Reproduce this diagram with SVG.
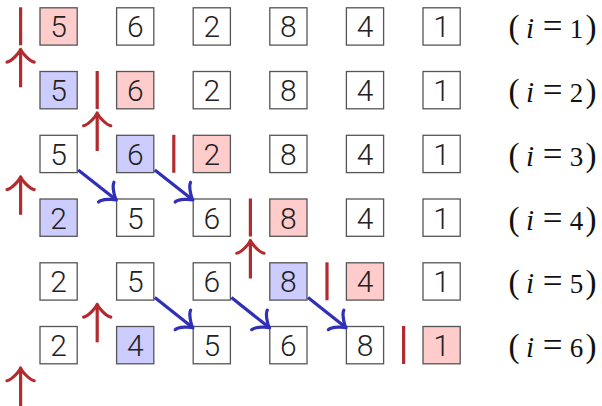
<svg xmlns="http://www.w3.org/2000/svg" width="602" height="406" viewBox="0 0 602 406">
<style>
.bx{fill:#ffffff;stroke:#555555;stroke-width:1.3}
.p{fill:#ffcccc}
.b{fill:#ccccff}
.d{font-family:Roboto,"DejaVu Sans",sans-serif;font-weight:300;font-size:30px;fill:#222222;text-anchor:middle}
.bar{stroke:#b22b2e;stroke-width:3.2;fill:none}
.ra{stroke:#b22b2e;stroke-width:3.2;fill:none;marker-end:url(#mr)}
.ba{stroke:#2f2fb8;stroke-width:3.2;fill:none;marker-end:url(#mb)}
.lb{font-family:"Liberation Serif",serif;font-size:27px;fill:#111111;text-anchor:middle}
.pa{font-size:33px}
.it{font-style:italic;font-size:29px}
.eq{font-size:35px}
</style>
<defs>
<marker id="mr" markerUnits="userSpaceOnUse" markerWidth="40" markerHeight="40" viewBox="-20 -20 40 40" refX="0" refY="0" orient="auto" overflow="visible">
<path d="M -12.75 -13.6 C -11.9 -8.5 -2.55 -0.85 0 0 C -2.55 0.85 -11.9 8.5 -12.75 13.6" fill="none" stroke="#b22b2e" stroke-width="3.2" stroke-linecap="round" stroke-linejoin="round"/>
</marker>
<marker id="mb" markerUnits="userSpaceOnUse" markerWidth="40" markerHeight="40" viewBox="-20 -20 40 40" refX="0" refY="0" orient="auto" overflow="visible">
<path d="M -12.75 -12.5 C -11.9 -7.8 -2.55 -0.8 0 0 C -2.55 0.8 -11.9 7.8 -12.75 12.5" fill="none" stroke="#2f2fb8" stroke-width="3.2" stroke-linecap="round" stroke-linejoin="round"/>
</marker>
</defs>

<g id="row1">
<g id="n1-1"><rect class="bx p" x="40" y="7.8" width="37.2" height="37.3"/><text class="d" x="58.6" y="37.2">5</text></g>
<g id="n1-2"><rect class="bx" x="116.6" y="7.8" width="37.2" height="37.3"/><text class="d" x="135.2" y="37.2">6</text></g>
<g id="n1-3"><rect class="bx" x="193.2" y="7.8" width="37.2" height="37.3"/><text class="d" x="211.8" y="37.2">2</text></g>
<g id="n1-4"><rect class="bx" x="269.8" y="7.8" width="37.2" height="37.3"/><text class="d" x="288.4" y="37.2">8</text></g>
<g id="n1-5"><rect class="bx" x="346.4" y="7.8" width="37.2" height="37.3"/><text class="d" x="365" y="37.2">4</text></g>
<g id="n1-6"><rect class="bx" x="423" y="7.8" width="37.2" height="37.3"/><text class="d" x="441.6" y="37.2">1</text></g>
<text id="lab1" class="lb" y="38.4"><tspan x="514" class="pa">(</tspan><tspan x="530" class="it">i</tspan><tspan x="552.5" class="eq">=</tspan><tspan x="576.5">1</tspan><tspan x="591" class="pa">)</tspan></text>
</g>

<g id="row2">
<g id="n2-1"><rect class="bx b" x="40" y="71.5" width="37.2" height="37.3"/><text class="d" x="58.6" y="101">5</text></g>
<g id="n2-2"><rect class="bx p" x="116.6" y="71.5" width="37.2" height="37.3"/><text class="d" x="135.2" y="101">6</text></g>
<g id="n2-3"><rect class="bx" x="193.2" y="71.5" width="37.2" height="37.3"/><text class="d" x="211.8" y="101">2</text></g>
<g id="n2-4"><rect class="bx" x="269.8" y="71.5" width="37.2" height="37.3"/><text class="d" x="288.4" y="101">8</text></g>
<g id="n2-5"><rect class="bx" x="346.4" y="71.5" width="37.2" height="37.3"/><text class="d" x="365" y="101">4</text></g>
<g id="n2-6"><rect class="bx" x="423" y="71.5" width="37.2" height="37.3"/><text class="d" x="441.6" y="101">1</text></g>
<text id="lab2" class="lb" y="102.1"><tspan x="514" class="pa">(</tspan><tspan x="530" class="it">i</tspan><tspan x="552.5" class="eq">=</tspan><tspan x="576.5">2</tspan><tspan x="591" class="pa">)</tspan></text>
</g>

<g id="row3">
<g id="n3-1"><rect class="bx" x="40" y="135.3" width="37.2" height="37.3"/><text class="d" x="58.6" y="164.8">5</text></g>
<g id="n3-2"><rect class="bx b" x="116.6" y="135.3" width="37.2" height="37.3"/><text class="d" x="135.2" y="164.8">6</text></g>
<g id="n3-3"><rect class="bx p" x="193.2" y="135.3" width="37.2" height="37.3"/><text class="d" x="211.8" y="164.8">2</text></g>
<g id="n3-4"><rect class="bx" x="269.8" y="135.3" width="37.2" height="37.3"/><text class="d" x="288.4" y="164.8">8</text></g>
<g id="n3-5"><rect class="bx" x="346.4" y="135.3" width="37.2" height="37.3"/><text class="d" x="365" y="164.8">4</text></g>
<g id="n3-6"><rect class="bx" x="423" y="135.3" width="37.2" height="37.3"/><text class="d" x="441.6" y="164.8">1</text></g>
<text id="lab3" class="lb" y="165.9"><tspan x="514" class="pa">(</tspan><tspan x="530" class="it">i</tspan><tspan x="552.5" class="eq">=</tspan><tspan x="576.5">3</tspan><tspan x="591" class="pa">)</tspan></text>
</g>

<g id="row4">
<g id="n4-1"><rect class="bx b" x="40" y="199" width="37.2" height="37.3"/><text class="d" x="58.6" y="228.5">2</text></g>
<g id="n4-2"><rect class="bx" x="116.6" y="199" width="37.2" height="37.3"/><text class="d" x="135.2" y="228.5">5</text></g>
<g id="n4-3"><rect class="bx" x="193.2" y="199" width="37.2" height="37.3"/><text class="d" x="211.8" y="228.5">6</text></g>
<g id="n4-4"><rect class="bx p" x="269.8" y="199" width="37.2" height="37.3"/><text class="d" x="288.4" y="228.5">8</text></g>
<g id="n4-5"><rect class="bx" x="346.4" y="199" width="37.2" height="37.3"/><text class="d" x="365" y="228.5">4</text></g>
<g id="n4-6"><rect class="bx" x="423" y="199" width="37.2" height="37.3"/><text class="d" x="441.6" y="228.5">1</text></g>
<text id="lab4" class="lb" y="229.6"><tspan x="514" class="pa">(</tspan><tspan x="530" class="it">i</tspan><tspan x="552.5" class="eq">=</tspan><tspan x="576.5">4</tspan><tspan x="591" class="pa">)</tspan></text>
</g>

<g id="row5">
<g id="n5-1"><rect class="bx" x="40" y="262.8" width="37.2" height="37.3"/><text class="d" x="58.6" y="292.3">2</text></g>
<g id="n5-2"><rect class="bx" x="116.6" y="262.8" width="37.2" height="37.3"/><text class="d" x="135.2" y="292.3">5</text></g>
<g id="n5-3"><rect class="bx" x="193.2" y="262.8" width="37.2" height="37.3"/><text class="d" x="211.8" y="292.3">6</text></g>
<g id="n5-4"><rect class="bx b" x="269.8" y="262.8" width="37.2" height="37.3"/><text class="d" x="288.4" y="292.3">8</text></g>
<g id="n5-5"><rect class="bx p" x="346.4" y="262.8" width="37.2" height="37.3"/><text class="d" x="365" y="292.3">4</text></g>
<g id="n5-6"><rect class="bx" x="423" y="262.8" width="37.2" height="37.3"/><text class="d" x="441.6" y="292.3">1</text></g>
<text id="lab5" class="lb" y="293.4"><tspan x="514" class="pa">(</tspan><tspan x="530" class="it">i</tspan><tspan x="552.5" class="eq">=</tspan><tspan x="576.5">5</tspan><tspan x="591" class="pa">)</tspan></text>
</g>

<g id="row6">
<g id="n6-1"><rect class="bx" x="40" y="326.5" width="37.2" height="37.3"/><text class="d" x="58.6" y="356">2</text></g>
<g id="n6-2"><rect class="bx b" x="116.6" y="326.5" width="37.2" height="37.3"/><text class="d" x="135.2" y="356">4</text></g>
<g id="n6-3"><rect class="bx" x="193.2" y="326.5" width="37.2" height="37.3"/><text class="d" x="211.8" y="356">5</text></g>
<g id="n6-4"><rect class="bx" x="269.8" y="326.5" width="37.2" height="37.3"/><text class="d" x="288.4" y="356">6</text></g>
<g id="n6-5"><rect class="bx" x="346.4" y="326.5" width="37.2" height="37.3"/><text class="d" x="365" y="356">8</text></g>
<g id="n6-6"><rect class="bx p" x="423" y="326.5" width="37.2" height="37.3"/><text class="d" x="441.6" y="356">1</text></g>
<text id="lab6" class="lb" y="357.1"><tspan x="514" class="pa">(</tspan><tspan x="530" class="it">i</tspan><tspan x="552.5" class="eq">=</tspan><tspan x="576.5">6</tspan><tspan x="591" class="pa">)</tspan></text>
</g>

<g id="connectors">
<line class="bar" x1="20.6" y1="7.3" x2="20.6" y2="45.3"/>
<line class="bar" x1="97.2" y1="71" x2="97.2" y2="109"/>
<line class="bar" x1="173.8" y1="134.8" x2="173.8" y2="172.8"/>
<line class="bar" x1="250.4" y1="198.5" x2="250.4" y2="236.5"/>
<line class="bar" x1="327" y1="262.3" x2="327" y2="300.3"/>
<line class="bar" x1="403.6" y1="326" x2="403.6" y2="364"/>

<line class="ra" x1="20.6" y1="87.3" x2="20.6" y2="49.3"/>
<line class="ra" x1="97.2" y1="151" x2="97.2" y2="113"/>
<line class="ra" x1="20.6" y1="214.8" x2="20.6" y2="176.8"/>
<line class="ra" x1="250.4" y1="278.5" x2="250.4" y2="240.5"/>
<line class="ra" x1="97.2" y1="342.3" x2="97.2" y2="304.3"/>
<line class="ra" x1="20.6" y1="406" x2="20.6" y2="368"/>

<line class="ba" x1="78.2" y1="170.1" x2="116.3" y2="200"/>
<line class="ba" x1="154.8" y1="170.1" x2="192.9" y2="200"/>
<line class="ba" x1="154.8" y1="297.6" x2="192.9" y2="327.8"/>
<line class="ba" x1="231.4" y1="297.6" x2="269.5" y2="327.8"/>
<line class="ba" x1="308" y1="297.6" x2="346.1" y2="327.8"/>
</g>
</svg>
